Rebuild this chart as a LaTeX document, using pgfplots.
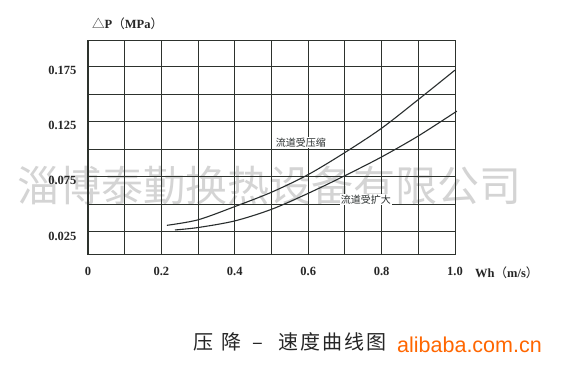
\documentclass[border=0pt]{standalone}
\usepackage{fontspec}
\setmainfont{Liberation Serif}
\newfontfamily\cjk{Noto Sans CJK SC}
\newfontfamily\arial{Liberation Sans}
\usepackage{pgfplots}
\pgfplotsset{compat=1.18}
\definecolor{gridc}{RGB}{45,50,45}
\definecolor{curvec}{RGB}{40,45,45}
\definecolor{ali}{RGB}{255,102,0}
\definecolor{wm}{RGB}{212,212,212}
\begin{document}
\begin{tikzpicture}
\path[fill=white] (0pt,0pt) rectangle (562pt,373pt);
\node[anchor=center, inner sep=0pt, text=wm] at (269pt,187pt) {\cjk\fontsize{42}{42}\selectfont 淄博泰勤换热设备有限公司};
\begin{axis}[
  at={(88pt,119pt)}, anchor=south west,
  scale only axis, width=367pt, height=214pt,
  xmin=0, xmax=1, ymin=0.005, ymax=0.199,
  xtick={0,0.2,0.4,0.6,0.8,1.0},
  xticklabels={0,0.2,0.4,0.6,0.8,1.0},
  minor xtick={0.1,0.3,0.5,0.7,0.9},
  ytick={0.025,0.075,0.125,0.175},
  yticklabels={0.025,0.075,0.125,0.175},
  minor ytick={0.05,0.1,0.15},
  grid=both,
  major grid style={gridc, line width=0.9pt},
  minor grid style={gridc, line width=0.9pt},
  axis line style={gridc, line width=1pt},
  tick style={draw=none},
  ticklabel style={font=\fontsize{12.5}{12.5}\selectfont\bfseries, text=black!85},
  xticklabel style={yshift=-10pt},
  yticklabel style={xshift=-8pt, yshift=-4pt},
  clip=false,
]
\addplot[curvec, line width=1.1pt, smooth] coordinates {
(0.215,0.031) (0.3,0.036) (0.4,0.048) (0.5,0.061) (0.6,0.077) (0.7,0.097) (0.8,0.119) (0.9,0.145) (1.0,0.1717)};
\addplot[curvec, line width=1.1pt, smooth] coordinates {
(0.237,0.0268) (0.3,0.029) (0.4,0.035) (0.5,0.0455) (0.6,0.060) (0.7,0.076) (0.8,0.093) (0.9,0.112) (1.005,0.1345)};
\node[fill=white, inner sep=1pt, font=\cjk\fontsize{10}{10}\selectfont, text=curvec] at (axis cs:0.58,0.106) {流道受压缩};
\node[fill=white, inner sep=1pt, font=\cjk\fontsize{10}{10}\selectfont, text=curvec] at (axis cs:0.757,0.0542) {流道受扩大};
\end{axis}
\node[anchor=west, inner sep=0pt, text=black!85] at (92pt,349pt) {{\cjk\fontsize{12.5}{12.5}\selectfont △}{\fontsize{12.5}{12.5}\selectfont\bfseries P}{\cjk\fontsize{12.5}{12.5}\selectfont （}{\fontsize{12.5}{12.5}\selectfont\bfseries MPa}{\cjk\fontsize{12.5}{12.5}\selectfont ）}};
\node[anchor=west, inner sep=0pt, text=black!85] at (475pt,100pt) {{\fontsize{12.5}{12.5}\selectfont\bfseries Wh}{\cjk\fontsize{12.5}{12.5}\selectfont （}{\fontsize{12.5}{12.5}\selectfont\bfseries m/s}{\cjk\fontsize{12.5}{12.5}\selectfont ）}};
\node[anchor=center, inner sep=0pt, text=black!85] at (290pt,31pt) {\cjk\fontsize{20}{20}\selectfont 压\hspace{8pt}降\hspace{11pt}–\hspace{15pt}速\kern2pt 度\kern2pt 曲\kern2pt 线\kern2pt 图};
\node[anchor=base west, inner sep=0pt, text=ali] at (397pt,21pt) {\arial\fontsize{21.5}{21.5}\selectfont alibaba.com.cn};
\end{tikzpicture}
\end{document}
